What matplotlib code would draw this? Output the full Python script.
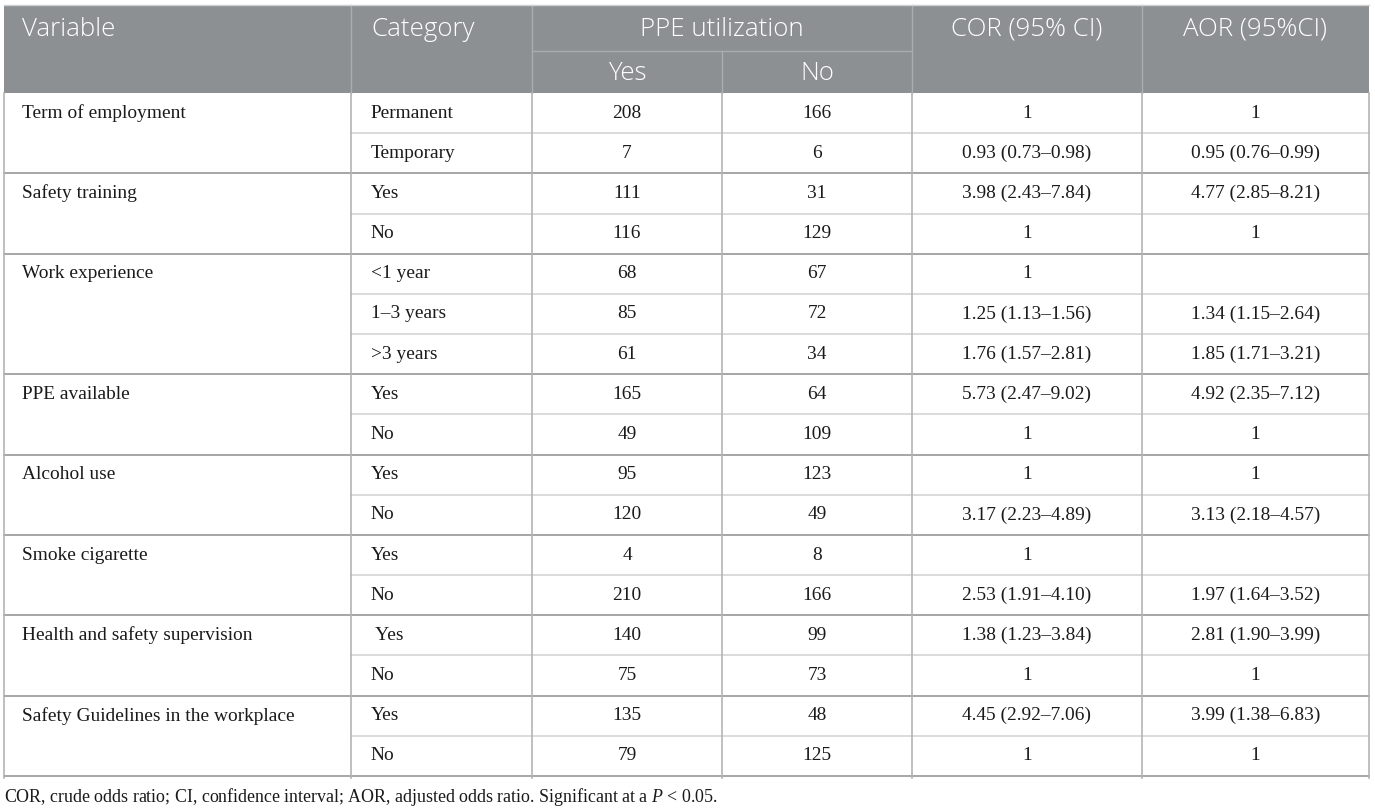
import numpy as np
import matplotlib.pyplot as plt
from matplotlib.patches import Rectangle

plt.rcParams['mathtext.fontset'] = 'custom'
plt.rcParams['mathtext.it'] = 'Liberation Serif:italic'
plt.rcParams['mathtext.rm'] = 'Liberation Serif'

# table content
variables = ["Term of employment", "Safety training", "Work experience", "PPE available",
             "Alcohol use", "Smoke cigarette", "Health and safety supervision",
             "Safety Guidelines in the workplace"]
categories = [["Permanent", "Temporary"], ["Yes", "No"], ["<1 year", "1\u20133 years", ">3 years"],
              ["Yes", "No"], ["Yes", "No"], ["Yes", "No"], [" Yes", "No"], ["Yes", "No"]]
ppe_yes = [[208, 7], [111, 116], [68, 85, 61], [165, 49], [95, 120], [4, 210], [140, 75], [135, 79]]
ppe_no = [[166, 6], [31, 129], [67, 72, 34], [64, 109], [123, 49], [8, 166], [99, 73], [48, 125]]
cor = [["1", "0.93 (0.73\u20130.98)"], ["3.98 (2.43\u20137.84)", "1"],
       ["1", "1.25 (1.13\u20131.56)", "1.76 (1.57\u20132.81)"],
       ["5.73 (2.47\u20139.02)", "1"], ["1", "3.17 (2.23\u20134.89)"],
       ["1", "2.53 (1.91\u20134.10)"], ["1.38 (1.23\u20133.84)", "1"],
       ["4.45 (2.92\u20137.06)", "1"]]
aor = [["1", "0.95 (0.76\u20130.99)"], ["4.77 (2.85\u20138.21)", "1"],
       ["", "1.34 (1.15\u20132.64)", "1.85 (1.71\u20133.21)"],
       ["4.92 (2.35\u20137.12)", "1"], ["1", "3.13 (2.18\u20134.57)"],
       ["", "1.97 (1.64\u20133.52)"], ["2.81 (1.90\u20133.99)", "1"],
       ["3.99 (1.38\u20136.83)", "1"]]
header = ["Variable", "Category", "PPE utilization", "COR (95% CI)", "AOR (95%CI)"]
subheader = ["Yes", "No"]
footnote = r"COR, crude odds ratio; CI, confidence interval; AOR, adjusted odds ratio. Significant at a $P$ < 0.05."

# layout (pixels)
W, H = 1375, 809
cols = [4, 351, 532, 722, 912, 1142, 1369]
head_top, head_mid, head_bot = 5, 51, 93
body_bot = 776
n_rows = sum(len(c) for c in categories)
rh = (body_bot - head_bot) / n_rows

head_color = '#8c9092'
head_line = '#a9adaf'
grp_line = '#a6a6a6'
row_line = '#d4d4d4'
vline = '#b4b4b4'

fig = plt.figure(figsize=(W / 100, H / 100), dpi=100)
ax = fig.add_axes([0, 0, 1, 1])
ax.set_xlim(0, W)
ax.set_ylim(H, 0)
ax.axis('off')

sans = 'Open Sans'
serif = 'Liberation Serif'
hs = 18.6
bs = 13.95

# header
ax.add_patch(Rectangle((cols[0], head_top), cols[-1] - cols[0], head_bot - head_top,
                       facecolor=head_color, edgecolor='none'))
for x in cols[1:-1]:
    if x == 722:
        ax.plot([x, x], [head_mid, head_bot], color=head_line, lw=1)
    else:
        ax.plot([x, x], [head_top, head_bot], color=head_line, lw=1)
ax.plot([cols[2], cols[4]], [head_mid, head_mid], color=head_line, lw=1)
ax.plot([cols[0], cols[-1]], [head_top, head_top], color='#d0d0d0', lw=1)

ty = (head_top + head_mid) / 2 + 1
ax.text(cols[0] + 18, ty, header[0], color='white', fontsize=hs, family=sans,
        fontweight='light', ha='left', va='center')
ax.text(cols[1] + 20, ty, header[1], color='white', fontsize=hs, family=sans,
        fontweight='light', ha='left', va='center')
ax.text((cols[2] + cols[4]) / 2, ty, header[2], color='white', fontsize=hs, family=sans,
        fontweight='light', ha='center', va='center')
ax.text((cols[4] + cols[5]) / 2, ty, header[3], color='white', fontsize=hs, family=sans,
        fontweight='light', ha='center', va='center')
ax.text((cols[5] + cols[6]) / 2, ty, header[4], color='white', fontsize=hs, family=sans,
        fontweight='light', ha='center', va='center')
sy = (head_mid + head_bot) / 2 + 1
for i, s in enumerate(subheader):
    ax.text((cols[2 + i] + cols[3 + i]) / 2, sy, s, color='white', fontsize=hs, family=sans,
            fontweight='light', ha='center', va='center')

# body
r = 0
for g, var in enumerate(variables):
    top = head_bot + r * rh
    ax.text(cols[0] + 18, top + rh / 2, var, fontsize=bs, family=serif,
            color='#1a1a1a', ha='left', va='center')
    for k, cat in enumerate(categories[g]):
        yc = head_bot + (r + 0.5) * rh
        ax.text(cols[1] + 20, yc, cat, fontsize=bs, family=serif, color='#1a1a1a',
                ha='left', va='center')
        vals = [str(ppe_yes[g][k]), str(ppe_no[g][k]), cor[g][k], aor[g][k]]
        for j, v in enumerate(vals):
            ax.text((cols[2 + j] + cols[3 + j]) / 2, yc, v, fontsize=bs, family=serif,
                    color='#1a1a1a', ha='center', va='center')
        if k > 0:
            ax.plot([cols[1], cols[-1]], [top + k * rh] * 2, color=row_line, lw=1.2)
        r += 1
    if g > 0:
        ax.plot([cols[0], cols[-1]], [top, top], color=grp_line, lw=1.4)

ax.plot([cols[0], cols[-1]], [body_bot, body_bot], color=grp_line, lw=1.4)
for x in cols:
    ax.plot([x, x], [head_bot, body_bot + 2], color=vline, lw=1.2)

ax.text(cols[0], 797, footnote, fontsize=12.9, family=serif, color='#1a1a1a',
        ha='left', va='center')

fig.savefig('out.png', dpi=100, facecolor='white')
